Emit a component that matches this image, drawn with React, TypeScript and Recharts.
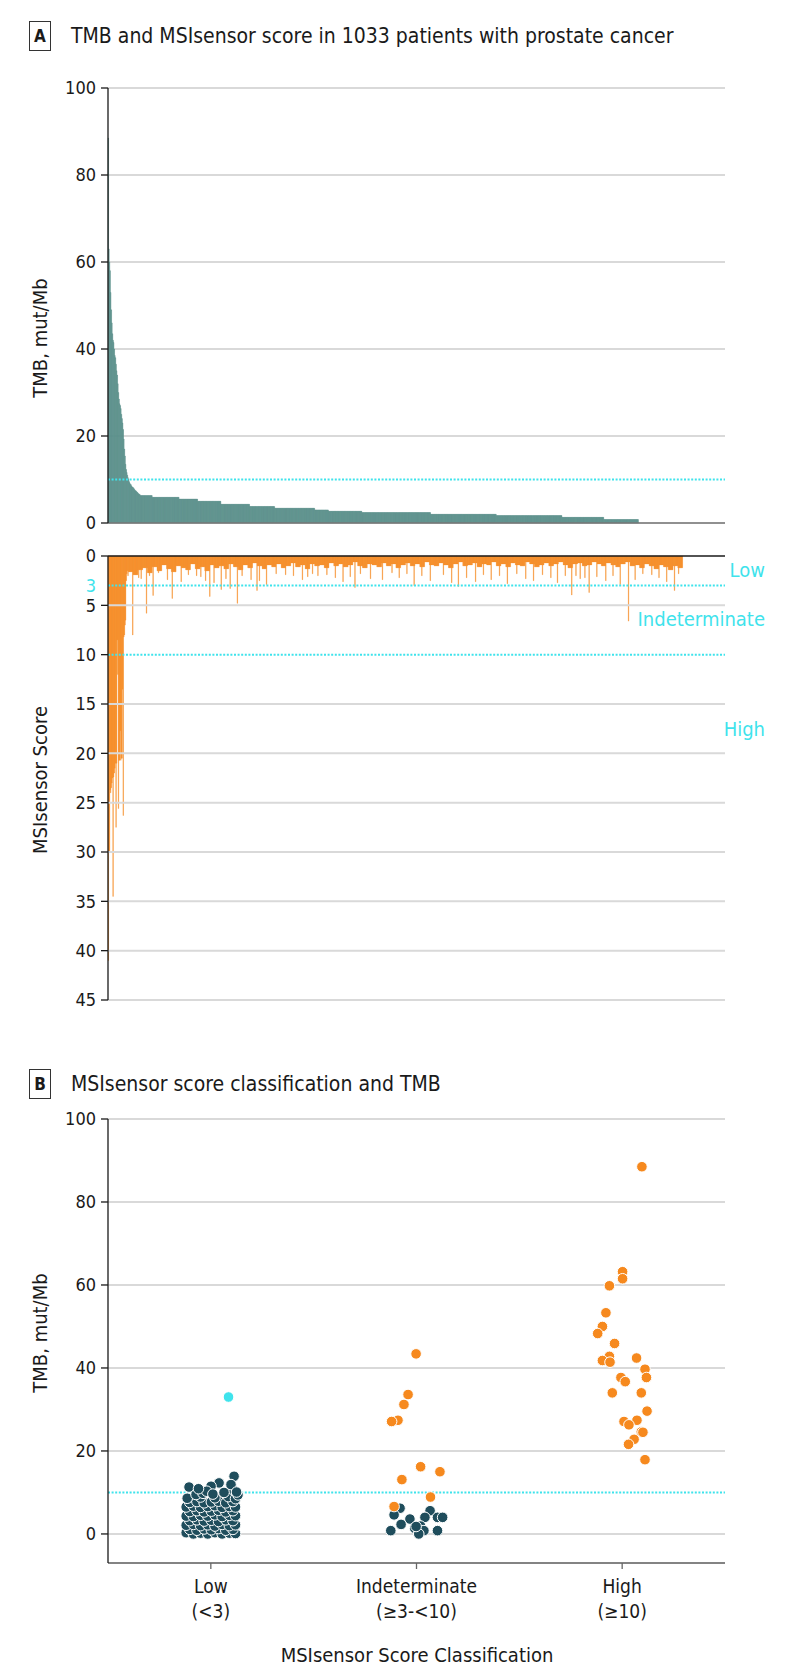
import React from "react";
import {
  BarChart,
  Bar,
  XAxis,
  YAxis,
  CartesianGrid,
  ReferenceLine,
  ScatterChart,
  Scatter,
} from "recharts";

// ---- panel A: patients sorted by TMB (1033) ----
const patientCount = 1033;

// first patients, one value each (mut/Mb)
const tmbLead = [
  88.5, 63, 60, 58, 53, 49, 46, 43.5, 42, 41.5, 40, 38.5, 38, 36.5, 35, 34, 32, 30, 28.5, 27.4,
  27, 26.3, 25, 24, 23, 21.5, 19.3, 17, 15.4, 13.5, 12.3, 11.6, 11, 10.4, 10, 9.5, 9.2, 8.9, 8.8,
  8.5, 8.3, 8.2, 8.1, 7.9, 7.7, 7.5, 7.4, 7.3, 7.1, 7.0, 6.8, 6.7, 6.6, 6.5,
];
// the long flat tail as [patients, TMB]
const tmbSteps: [number, number][] = [
  [20, 6.3], [45, 5.9], [31, 5.5], [39, 5.0], [48, 4.3], [42, 3.8], [67, 3.4], [23, 3.0],
  [56, 2.7], [115, 2.4], [110, 2.0], [110, 1.7], [70, 1.3], [58, 0.8], [145, 0],
];

// MSIsensor score, same patient order
const msiLead = [
  41, 30, 30, 23.7, 24, 23.5, 23, 22.5, 34.5, 22.4, 22, 21.5, 21, 27.5, 21, 8.5, 12, 25.6, 20.7,
  20.7, 17.7, 20.7, 20.5, 20.5, 13.5, 26.3, 8.2, 8, 7, 6.5, 2.5, 1.8, 1.5, 2,
];
const msiBlock = 8; // patients per band value
const msiBand = [
  1.6, 1.9, 1.4, 1.2, 1.7, 1.1, 1.5, 0.9, 1.3, 1.6, 1.0, 1.2, 1.4, 0.8, 1.3, 1.1, 1.5, 0.9, 1.2, 1.0,
  1.3, 0.8, 1.1, 1.4, 0.9, 1.2, 0.7, 1.0, 1.3, 0.9, 1.1, 0.8, 1.2, 1.0, 0.7, 1.1, 0.9, 1.3, 0.8, 1.0,
  0.9, 1.2, 0.7, 1.0, 0.8, 1.1, 0.9, 0.6, 1.0, 1.2, 0.8, 0.9, 1.1, 0.7, 1.0, 0.8, 1.2, 0.9, 0.7, 1.0,
  0.8, 1.1, 0.6, 0.9, 1.0, 0.7, 0.9, 1.2, 0.8, 0.6, 1.0, 0.9, 0.7, 1.1, 0.8, 0.9, 0.6, 1.0, 0.8, 1.1,
  0.7, 0.9, 1.0, 0.6, 0.8, 1.1, 0.9, 0.7, 1.0, 0.8, 0.6, 0.9, 1.2, 0.8, 0.7, 1.0, 0.9, 0.6, 0.8, 1.0,
  0.7, 0.9, 1.1, 0.8, 0.6, 1.0, 0.9, 1.2, 0.8, 1.0, 1.3, 0.9, 1.1, 1.4, 1.0, 1.2,
];
// single deeper spikes: [patient index, score]
const msiSpikes: [number, number][] = [
  [41, 8.0], [51, 2.2], [55, 2.3], [64, 5.8], [69, 2.0], [75, 4.0], [84, 1.7], [99, 2.4], [107, 4.3],
  [122, 2.6], [134, 1.9], [148, 2.0], [155, 2.1], [163, 2.5], [170, 4.1], [177, 2.7], [189, 3.4],
  [197, 2.3], [204, 3.3], [216, 4.8], [224, 2.0], [239, 2.4], [249, 3.5], [253, 2.5], [265, 2.9],
  [281, 1.8], [297, 1.9], [310, 2.0], [325, 2.4], [334, 2.1], [342, 1.8], [351, 2.0], [366, 1.9],
  [380, 2.2], [393, 2.6], [405, 2.1], [413, 3.2], [422, 1.8], [439, 2.3], [459, 2.4], [475, 1.7],
  [487, 2.2], [500, 1.8], [512, 3.0], [525, 2.0], [539, 2.5], [561, 1.9], [575, 2.7], [586, 3.1],
  [600, 2.2], [615, 2.6], [628, 1.9], [641, 2.4], [655, 2.0], [668, 2.8], [684, 1.8], [699, 2.3],
  [712, 2.5], [727, 1.9], [741, 2.2], [752, 2.7], [765, 2.0], [776, 3.95], [783, 2.0], [790, 2.3],
  [798, 2.2], [805, 3.7], [818, 2.1], [833, 2.5], [845, 2.0], [857, 2.9], [871, 6.6], [882, 2.4],
  [895, 1.8], [910, 1.9], [922, 2.2], [935, 2.6], [948, 3.5], [955, 1.8],
];

const tmbTicks = [0, 20, 40, 60, 80, 100];
const msiTicks = [0, 3, 5, 10, 15, 20, 25, 30, 35, 40, 45];
const msiGrid = [5, 15, 20, 25, 30, 35, 40, 45];
const msiCuts = [3, 10];
const tmbCut = 10;
const zoneLabels = ["Low", "Indeterminate", "High"];

// ---- panel B: classification vs TMB, [x position in class band, TMB] ----
const classNames = ["Low", "Indeterminate", "High"];
const classRanges = ["(<3)", "(\u22653-<10)", "(\u226510)"];
const classTicks = [0.5, 1.5, 2.5];
const tmbTicksB = [0, 20, 40, 60, 80, 100];

const lowTeal: [number, number][] = [
  [0.38, 0.3], [0.415, 0.0], [0.45, 0.2], [0.485, 0.0], [0.52, 0.3], [0.555, 0.0], [0.59, 0.2], [0.62, 0.1],
  [0.3975, 1.1], [0.4325, 0.9], [0.4675, 1.2], [0.5025, 1.0], [0.5375, 1.3], [0.5725, 0.9], [0.6075, 1.1],
  [0.38, 2.1], [0.415, 2.3], [0.45, 2.0], [0.485, 2.2], [0.52, 1.9], [0.555, 2.3], [0.59, 2.0], [0.62, 2.2],
  [0.3975, 3.2], [0.4325, 3.4], [0.4675, 3.1], [0.5025, 3.3], [0.5375, 3.0], [0.5725, 3.4], [0.6075, 3.2],
  [0.38, 4.3], [0.415, 4.2], [0.45, 4.5], [0.485, 4.3], [0.52, 4.6], [0.555, 4.2], [0.59, 4.5], [0.62, 4.4],
  [0.3975, 5.4], [0.4325, 5.6], [0.4675, 5.3], [0.5025, 5.5], [0.5375, 5.7], [0.5725, 5.3], [0.6075, 5.6],
  [0.38, 6.5], [0.415, 6.7], [0.45, 6.4], [0.485, 6.6], [0.52, 6.8], [0.555, 6.4], [0.59, 6.6], [0.62, 6.5],
  [0.3975, 7.6], [0.4325, 7.8], [0.4675, 7.5], [0.5025, 7.7], [0.5375, 7.9], [0.5725, 7.5], [0.6075, 7.8],
  [0.385, 8.6], [0.45, 8.9], [0.52, 8.7], [0.585, 9.0], [0.62, 8.5],
  [0.613, 13.9], [0.394, 11.3], [0.54, 12.3], [0.501, 11.5], [0.608, 10.7], [0.428, 9.5], [0.462, 9.8],
  [0.564, 10.0], [0.632, 9.4], [0.48, 10.3], [0.44, 10.9], [0.598, 11.9], [0.625, 10.1], [0.51, 9.6],
];
const lowCyan: [number, number][] = [[0.586, 33.0]];
const indetTeal: [number, number][] = [
  [1.42, 6.2], [1.391, 4.6], [1.468, 3.6], [1.425, 2.3], [1.566, 5.6], [1.602, 4.0], [1.627, 4.0],
  [1.541, 4.0], [1.375, 0.8], [1.491, 1.4], [1.52, 1.9], [1.512, 0.8], [1.536, 0.8], [1.602, 0.8],
  [1.511, 0.0], [1.498, 1.8],
];
const indetOrange: [number, number][] = [
  [1.498, 43.4], [1.459, 33.6], [1.439, 31.2], [1.41, 27.4], [1.379, 27.1], [1.429, 13.1],
  [1.52, 16.2], [1.614, 15.0], [1.568, 8.9], [1.391, 6.6],
];
const highOrange: [number, number][] = [
  [2.596, 88.5], [2.502, 63.2], [2.502, 61.5], [2.438, 59.8], [2.421, 53.3], [2.404, 50.0],
  [2.381, 48.3], [2.463, 45.9], [2.438, 42.8], [2.404, 41.8], [2.441, 41.4], [2.57, 42.4],
  [2.611, 39.7], [2.618, 37.7], [2.494, 37.7], [2.515, 36.7], [2.452, 34.0], [2.593, 34.0],
  [2.621, 29.6], [2.509, 27.1], [2.572, 27.4], [2.533, 26.3], [2.593, 24.6], [2.601, 24.5],
  [2.558, 22.8], [2.531, 21.6], [2.611, 17.9],
];

// ---- build rows ----
const tmbValues = [...tmbLead, ...tmbSteps.flatMap(([n, v]) => Array(n).fill(v))];
const msiValues = [...msiLead, ...msiBand.flatMap((v) => Array(msiBlock).fill(v))];
while (msiValues.length < patientCount) msiValues.push(0);
msiSpikes.forEach(([i, v]) => {
  msiValues[i] = Math.max(msiValues[i], v);
});
const patients = tmbValues.map((t, i) => ({ id: i + 1, tmb: t, msi: msiValues[i] }));
const toPts = (arr: [number, number][]) => arr.map(([x, y]) => ({ x, y }));

// ---- style ----
const FONT = '"DejaVu Sans Condensed", "DejaVu Sans", sans-serif';
const INK = "#1a1a1a";
const TEAL_BAR = "#5b908c";
const TEAL_DOT = "#1f4d5c";
const ORANGE = "#f6891e";
const CYAN = "#3fe3ec";
const GRID = "#d9d9d9";
const W = 794;
const PLOT_RIGHT = 69;

const YTick = (props: any) => {
  const { x, y, payload, cut } = props;
  const hl = payload.value === cut;
  return (
    <g>
      {!hl && <line x1={x + 5} x2={x + 12} y1={y} y2={y} stroke={INK} strokeWidth={1.3} />}
      <text x={x} y={y} dy="0.36em" textAnchor="end" fill={hl ? CYAN : INK} fontSize={18} fontFamily={FONT}>
        {payload.value}
      </text>
    </g>
  );
};

const ClassTick = (props: any) => {
  const { x, y, payload } = props;
  const k = Math.floor(payload.value);
  return (
    <text x={x} textAnchor="middle" fill={INK} fontSize={19} fontFamily={FONT}>
      <tspan x={x} y={y + 20}>{classNames[k]}</tspan>
      <tspan x={x} y={y + 45}>{classRanges[k]}</tspan>
    </text>
  );
};

const dot = (fill: string) => (p: any) =>
  <circle cx={p.cx} cy={p.cy} r={5.3} fill={fill} stroke="#ffffff" strokeWidth={1} />;

const abs = (s: React.CSSProperties): React.CSSProperties => ({ position: "absolute", ...s });

const PanelTag = ({ letter, top, title }: { letter: string; top: number; title: string }) => (
  <>
    <div
      style={abs({
        left: 29, top, width: 20, height: 28, border: "1.5px solid #333", fontWeight: 700,
        fontSize: 17, lineHeight: "28px", textAlign: "center", color: INK,
      })}
    >
      {letter}
    </div>
    <div style={abs({ left: 71, top: top + 15, transform: "translateY(-50%)", fontSize: 21, color: INK, whiteSpace: "nowrap" })}>
      {title}
    </div>
  </>
);

const VLabel = ({ text, cx, cy }: { text: string; cx: number; cy: number }) => (
  <div
    style={abs({
      left: cx, top: cy, transform: "translate(-50%, -50%) rotate(-90deg)", fontSize: 20,
      color: INK, whiteSpace: "nowrap",
    })}
  >
    {text}
  </div>
);

export default function App() {
  return (
    <div style={abs({ left: 0, top: 0, width: W, height: 1672, background: "#fff", fontFamily: FONT, overflow: "hidden" })}>
      <PanelTag letter="A" top={21} title="TMB and MSIsensor score in 1033 patients with prostate cancer" />

      {/* TMB bars */}
      <div style={abs({ left: 0, top: 0 })}>
        <BarChart width={W} height={545} data={patients} margin={{ top: 88, right: PLOT_RIGHT, bottom: 22, left: 0 }} barCategoryGap={0} barGap={0}>
          <CartesianGrid vertical={false} stroke={GRID} strokeWidth={2} />
          <XAxis dataKey="id" hide />
          <YAxis
            domain={[0, 100]}
            ticks={tmbTicks}
            width={108}
            tickSize={7}
            tickMargin={5}
            tickLine={false}
            axisLine={{ stroke: INK, strokeWidth: 1.3 }}
            tick={<YTick cut={-1} />}
            interval={0}
          />
          <ReferenceLine y={tmbCut} stroke={CYAN} strokeWidth={2} strokeDasharray="2 1.6" />
          <Bar dataKey="tmb" fill={TEAL_BAR} stroke={TEAL_BAR} strokeWidth={0.4} isAnimationActive={false} />
          <ReferenceLine y={0} stroke="#777" strokeWidth={1.5} />
        </BarChart>
      </div>

      {/* MSIsensor bars, downward */}
      <div style={abs({ left: 0, top: 530 })}>
        <BarChart width={W} height={480} data={patients} margin={{ top: 26, right: PLOT_RIGHT, bottom: 10, left: 0 }} barCategoryGap={0} barGap={0}>
          <XAxis dataKey="id" hide />
          <YAxis
            reversed
            domain={[0, 45]}
            ticks={msiTicks}
            width={108}
            tickSize={7}
            tickMargin={5}
            tickLine={false}
            axisLine={{ stroke: INK, strokeWidth: 1.3 }}
            tick={<YTick cut={3} />}
            interval={0}
          />
          {msiGrid.map((v) => (
            <ReferenceLine key={v} y={v} stroke={GRID} strokeWidth={2} />
          ))}
          {msiCuts.map((v) => (
            <ReferenceLine key={"c" + v} y={v} stroke={CYAN} strokeWidth={2} strokeDasharray="2 1.6" />
          ))}
          <Bar dataKey="msi" fill={ORANGE} stroke={ORANGE} strokeWidth={0.3} isAnimationActive={false} />
          <ReferenceLine y={0} stroke={INK} strokeWidth={1.5} />
        </BarChart>
      </div>

      <div style={abs({ right: 29, top: 570, transform: "translateY(-50%)", color: CYAN, fontSize: 20 })}>{zoneLabels[0]}</div>
      <div style={abs({ right: 29, top: 619, transform: "translateY(-50%)", color: CYAN, fontSize: 20 })}>{zoneLabels[1]}</div>
      <div style={abs({ right: 29, top: 729, transform: "translateY(-50%)", color: CYAN, fontSize: 20 })}>{zoneLabels[2]}</div>

      <VLabel text="TMB, mut/Mb" cx={40} cy={338} />
      <VLabel text="MSIsensor Score" cx={40} cy={780} />

      <PanelTag letter="B" top={1069} title="MSIsensor score classification and TMB" />

      <div style={abs({ left: 0, top: 1080 })}>
        <ScatterChart width={W} height={592} margin={{ top: 39, right: PLOT_RIGHT, bottom: 9, left: 0 }}>
          <CartesianGrid vertical={false} stroke={GRID} strokeWidth={2} />
          <XAxis
            type="number"
            dataKey="x"
            domain={[0, 3]}
            ticks={classTicks}
            interval={0}
            height={100}
            tickSize={6}
            tickMargin={4}
            axisLine={{ stroke: "#666", strokeWidth: 1.3 }}
            tickLine={{ stroke: "#666", strokeWidth: 1.3 }}
            tick={<ClassTick />}
          />
          <YAxis
            type="number"
            dataKey="y"
            domain={[-7, 100]}
            ticks={tmbTicksB}
            width={108}
            tickSize={7}
            tickMargin={5}
            tickLine={false}
            axisLine={{ stroke: INK, strokeWidth: 1.3 }}
            tick={<YTick cut={-1} />}
            interval={0}
          />
          <ReferenceLine y={tmbCut} stroke={CYAN} strokeWidth={2} strokeDasharray="2 1.6" />
          <Scatter data={toPts(lowTeal)} shape={dot(TEAL_DOT)} isAnimationActive={false} />
          <Scatter data={toPts(lowCyan)} shape={dot(CYAN)} isAnimationActive={false} />
          <Scatter data={toPts(indetTeal)} shape={dot(TEAL_DOT)} isAnimationActive={false} />
          <Scatter data={toPts(indetOrange)} shape={dot(ORANGE)} isAnimationActive={false} />
          <Scatter data={toPts(highOrange)} shape={dot(ORANGE)} isAnimationActive={false} />
        </ScatterChart>
      </div>

      <VLabel text="TMB, mut/Mb" cx={40} cy={1333} />
      <div style={abs({ left: 417, top: 1655, transform: "translate(-50%, -50%)", fontSize: 20, color: INK, whiteSpace: "nowrap" })}>
        MSIsensor Score Classification
      </div>
    </div>
  );
}
